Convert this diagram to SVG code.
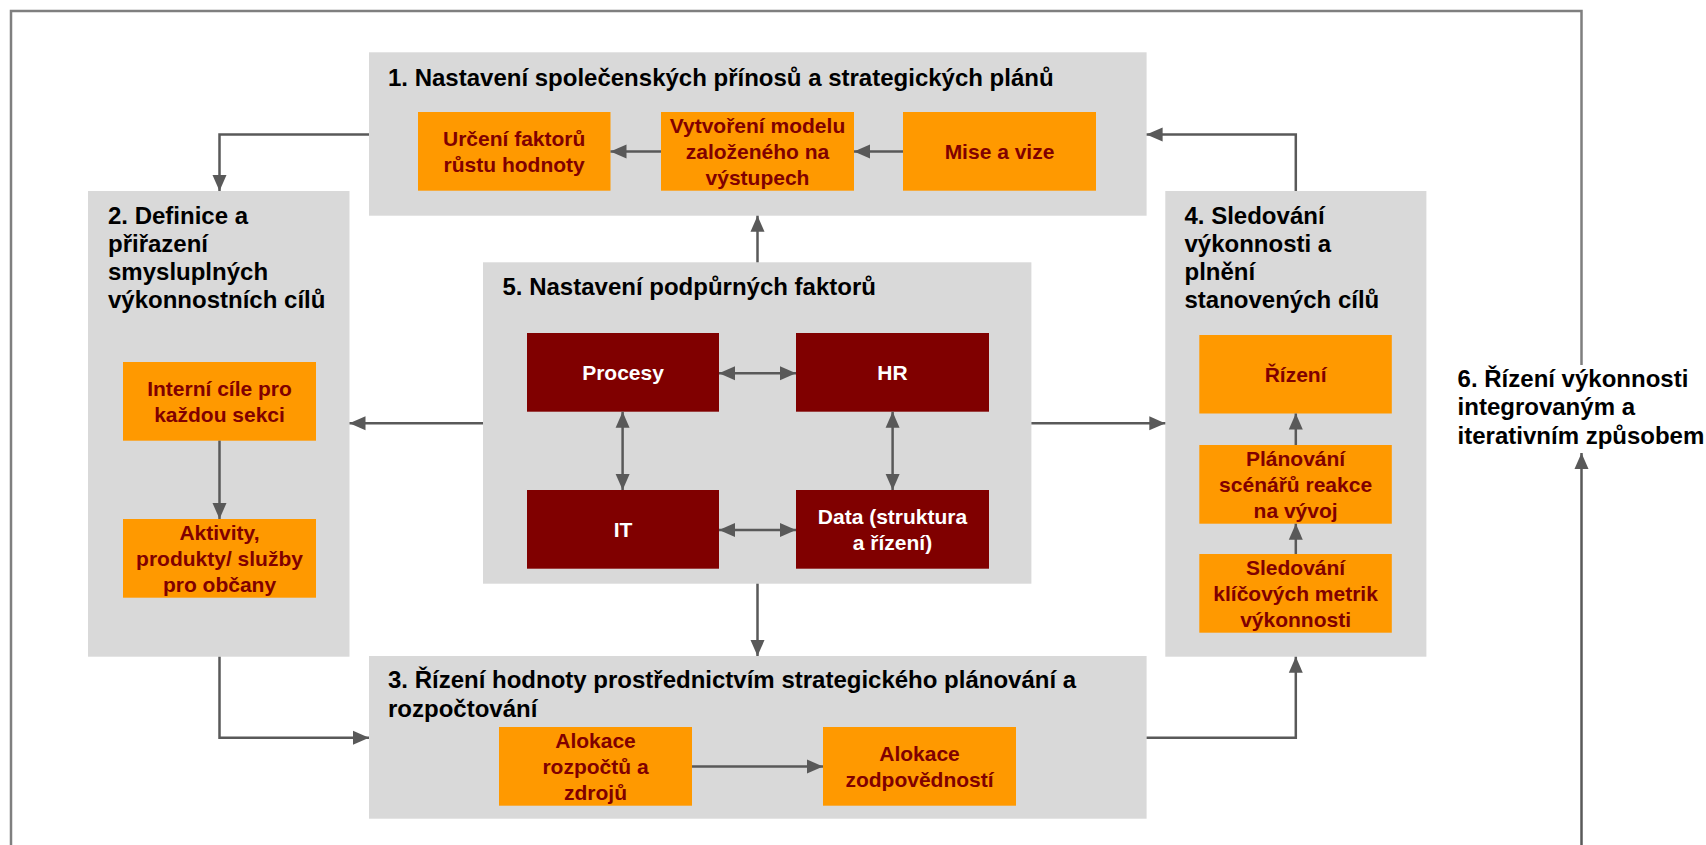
<svg xmlns="http://www.w3.org/2000/svg" width="1706" height="845" viewBox="0 0 1706 845">
<defs>
<marker id="ah" markerUnits="userSpaceOnUse" markerWidth="16" markerHeight="16" viewBox="0 0 16 16" refX="16" refY="8" orient="auto-start-reverse">
<path d="M0,1 L16,8 L0,15 Z" fill="#595959"/>
</marker>
<style>
.panel{fill:#d9d9d9}
.or{fill:#ff9900}
.dr{fill:#800000}
.title{font-family:"Liberation Sans",Arial,sans-serif;font-weight:bold;font-size:24px;fill:#000}
.ot{font-family:"Liberation Sans",Arial,sans-serif;font-weight:bold;font-size:21px;fill:#800000;text-anchor:middle}
.wt{font-family:"Liberation Sans",Arial,sans-serif;font-weight:bold;font-size:21px;fill:#fff;text-anchor:middle}
.ca{fill:none;stroke:#595959;stroke-width:2.5;marker-end:url(#ah)}
.cb{fill:none;stroke:#595959;stroke-width:2.5;marker-end:url(#ah);marker-start:url(#ah)}
.frame{fill:none;stroke:#7f7f7f;stroke-width:2.5}
</style>
</defs>
<rect width="1706" height="845" fill="#fff"/>
<g id="n1">
<rect class="panel" x="369" y="52.3" width="777.6" height="163.4"/>
<text class="title" x="388" y="86">1. Nastavení společenských přínosů a strategických plánů</text>
</g>
<g id="n1a">
<rect class="or" x="418" y="112" width="192.5" height="78.7"/>
<text class="ot" x="514.2" y="146"><tspan x="514.2">Určení faktorů</tspan><tspan x="514.2" dy="26">růstu hodnoty</tspan></text>
</g>
<g id="n1b">
<rect class="or" x="661" y="112" width="193" height="78.7"/>
<text class="ot" x="757.5" y="133.3"><tspan x="757.5">Vytvoření modelu</tspan><tspan x="757.5" dy="26">založeného na</tspan><tspan x="757.5" dy="26">výstupech</tspan></text>
</g>
<g id="n1c">
<rect class="or" x="903" y="112" width="193" height="78.7"/>
<text class="ot" x="999.5" y="159.3">Mise a vize</text>
</g>
<g id="n2">
<rect class="panel" x="88" y="191" width="261.5" height="465.7"/>
<text class="title" x="108" y="224"><tspan x="108">2. Definice a</tspan><tspan x="108" dy="28">přiřazení</tspan><tspan x="108" dy="28">smysluplných</tspan><tspan x="108" dy="28">výkonnostních cílů</tspan></text>
</g>
<g id="n2a">
<rect class="or" x="123" y="362" width="193" height="78.7"/>
<text class="ot" x="219.5" y="396.4"><tspan x="219.5">Interní cíle pro</tspan><tspan x="219.5" dy="26">každou sekci</tspan></text>
</g>
<g id="n2b">
<rect class="or" x="123" y="519" width="193" height="78.7"/>
<text class="ot" x="219.5" y="540.4"><tspan x="219.5">Aktivity,</tspan><tspan x="219.5" dy="26">produkty/ služby</tspan><tspan x="219.5" dy="26">pro občany</tspan></text>
</g>
<g id="n5">
<rect class="panel" x="483" y="262.3" width="548.4" height="321.4"/>
<text class="title" x="502.5" y="295">5. Nastavení podpůrných faktorů</text>
</g>
<g id="n5a">
<rect class="dr" x="527" y="333" width="192" height="78.7"/>
<text class="wt" x="623" y="379.5">Procesy</text>
</g>
<g id="n5b">
<rect class="dr" x="796" y="333" width="193" height="78.7"/>
<text class="wt" x="892.5" y="379.5">HR</text>
</g>
<g id="n5c">
<rect class="dr" x="527" y="490" width="192" height="78.7"/>
<text class="wt" x="623" y="537">IT</text>
</g>
<g id="n5d">
<rect class="dr" x="796" y="490" width="193" height="78.7"/>
<text class="wt" x="892.5" y="524.3"><tspan x="892.5">Data (struktura</tspan><tspan x="892.5" dy="26">a řízení)</tspan></text>
</g>
<g id="n3">
<rect class="panel" x="369" y="656" width="777.6" height="162.7"/>
<text class="title" x="388" y="688.3"><tspan x="388">3. Řízení hodnoty prostřednictvím strategického plánování a</tspan><tspan x="388" dy="28.4">rozpočtování</tspan></text>
</g>
<g id="n3a">
<rect class="or" x="499" y="727" width="193" height="78.7"/>
<text class="ot" x="595.5" y="748.4"><tspan x="595.5">Alokace</tspan><tspan x="595.5" dy="26">rozpočtů a</tspan><tspan x="595.5" dy="26">zdrojů</tspan></text>
</g>
<g id="n3b">
<rect class="or" x="823" y="727" width="193" height="78.7"/>
<text class="ot" x="919.5" y="761.4"><tspan x="919.5">Alokace</tspan><tspan x="919.5" dy="26">zodpovědností</tspan></text>
</g>
<g id="n4">
<rect class="panel" x="1165.3" y="191" width="261.1" height="465.7"/>
<text class="title" x="1184.5" y="224"><tspan x="1184.5">4. Sledování</tspan><tspan x="1184.5" dy="28">výkonnosti a</tspan><tspan x="1184.5" dy="28">plnění</tspan><tspan x="1184.5" dy="28">stanovených cílů</tspan></text>
</g>
<g id="n4a">
<rect class="or" x="1199.3" y="335" width="192.5" height="78.5"/>
<text class="ot" x="1295.6" y="382">Řízení</text>
</g>
<g id="n4b">
<rect class="or" x="1199.3" y="445" width="192.5" height="78.7"/>
<text class="ot" x="1295.6" y="466.4"><tspan x="1295.6">Plánování</tspan><tspan x="1295.6" dy="26">scénářů reakce</tspan><tspan x="1295.6" dy="26">na vývoj</tspan></text>
</g>
<g id="n4c">
<rect class="or" x="1199.3" y="554" width="192.5" height="78.7"/>
<text class="ot" x="1295.6" y="575.4"><tspan x="1295.6">Sledování</tspan><tspan x="1295.6" dy="26">klíčových metrik</tspan><tspan x="1295.6" dy="26">výkonnosti</tspan></text>
</g>
<g id="n6">
<text class="title" x="1457.6" y="386.7"><tspan x="1457.6">6. Řízení výkonnosti</tspan><tspan x="1457.6" dy="28.5">integrovaným a</tspan><tspan x="1457.6" dy="28.5">iterativním způsobem</tspan></text>
</g>
<g id="connectors">
<polyline class="frame" points="11,845 11,11 1581.5,11 1581.5,365"/>
<line class="ca" x1="1581.5" y1="845" x2="1581.5" y2="453"/>
<polyline class="ca" points="369,134.5 219.5,134.5 219.5,191"/>
<line class="ca" x1="661" y1="151.5" x2="610.5" y2="151.5"/>
<line class="ca" x1="903" y1="151.5" x2="854" y2="151.5"/>
<line class="ca" x1="219.5" y1="440.7" x2="219.5" y2="519"/>
<line class="ca" x1="757.5" y1="262.3" x2="757.5" y2="215.7"/>
<line class="ca" x1="483" y1="423.3" x2="349.5" y2="423.3"/>
<line class="ca" x1="1031.4" y1="423.3" x2="1165.3" y2="423.3"/>
<line class="ca" x1="757.5" y1="583.7" x2="757.5" y2="656"/>
<polyline class="ca" points="219.5,656.7 219.5,737.7 369,737.7"/>
<polyline class="ca" points="1146.6,737.7 1295.8,737.7 1295.8,656.7"/>
<polyline class="ca" points="1295.8,191 1295.8,134.5 1146.6,134.5"/>
<line class="cb" x1="719" y1="373.3" x2="796" y2="373.3"/>
<line class="cb" x1="622.6" y1="411.7" x2="622.6" y2="490"/>
<line class="cb" x1="892.6" y1="411.7" x2="892.6" y2="490"/>
<line class="cb" x1="719" y1="530" x2="796" y2="530"/>
<line class="ca" x1="692" y1="766.5" x2="823" y2="766.5"/>
<line class="ca" x1="1295.8" y1="445" x2="1295.8" y2="413.5"/>
<line class="ca" x1="1295.8" y1="554" x2="1295.8" y2="523.7"/>
</g>
</svg>
